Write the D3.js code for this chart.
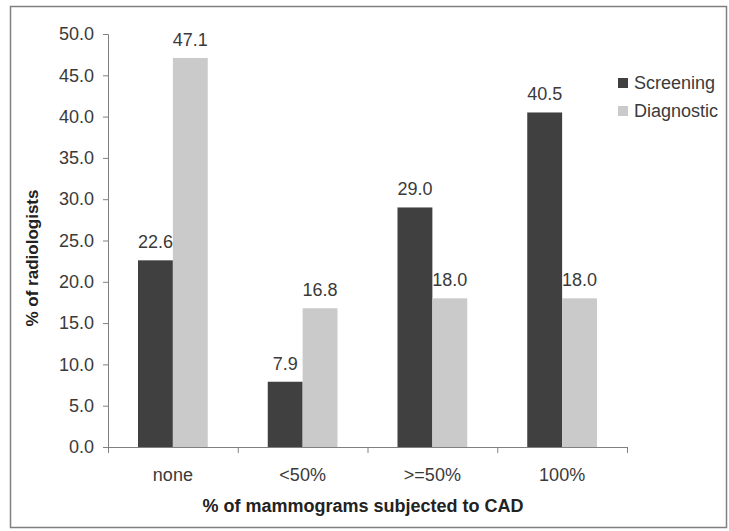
<!DOCTYPE html>
<html>
<head>
<meta charset="utf-8">
<script src="https://cdn.jsdelivr.net/npm/d3@7"></script>
<style>
body { margin: 0; background: #fff; }
text { font-family: "Liberation Sans", Arial, sans-serif; }
</style>
</head>
<body>
<script>
var categories = ["none", "<50%", ">=50%", "100%"];
var series = ["Screening", "Diagnostic"];
var screening = [22.6, 7.9, 29.0, 40.5];
var diagnostic = [47.1, 16.8, 18.0, 18.0];
var yTicks = [0, 5, 10, 15, 20, 25, 30, 35, 40, 45, 50];

var width = 729, height = 531;
var colors = {"Screening": "#404040", "Diagnostic": "#cacaca"};
var textColor = "#3a3a3a";

var svg = d3.select("body").append("svg")
	.attr("width", width)
	.attr("height", height);

// outer frame
svg.append("rect")
	.attr("x", 10.5).attr("y", 6.5)
	.attr("width", 716).attr("height", 521)
	.attr("fill", "none")
	.attr("stroke", "#808080")
	.attr("stroke-width", 1.5);

var x = d3.scaleBand().domain(categories).range([108, 627]);
var xs = d3.scaleBand().domain(series).range([0, x.bandwidth()]).paddingInner(0).paddingOuter(0.86);
var y = d3.scaleLinear().domain([0, 50]).range([447, 34]);

var rows = categories.map(function(c, i) {
	return {cat: c, vals: [{s: "Screening", v: screening[i]}, {s: "Diagnostic", v: diagnostic[i]}]};
});

var g = svg.selectAll("g.cat").data(rows).enter().append("g")
	.attr("class", "cat")
	.attr("transform", function(d) { return "translate(" + x(d.cat) + ",0)"; });

g.selectAll("rect").data(function(d) { return d.vals; }).enter().append("rect")
	.attr("x", function(d) { return xs(d.s); })
	.attr("y", function(d) { return y(d.v); })
	.attr("width", xs.bandwidth())
	.attr("height", function(d) { return y(0) - y(d.v); })
	.attr("fill", function(d) { return colors[d.s]; });

g.selectAll("text").data(function(d) { return d.vals; }).enter().append("text")
	.attr("x", function(d) { return xs(d.s) + xs.bandwidth() / 2; })
	.attr("y", function(d) { return y(d.v) - 12; })
	.attr("text-anchor", "middle")
	.attr("font-size", 18)
	.attr("fill", textColor)
	.text(function(d) { return d.v.toFixed(1); });

// y axis
var yAxis = svg.append("g")
	.attr("transform", "translate(108,0)")
	.call(d3.axisLeft(y).tickValues(yTicks).tickSize(5).tickFormat(d3.format(".1f")));
yAxis.select(".domain").attr("stroke", "#808080").attr("d", "M-5,34.5H0.5V447.5");
yAxis.selectAll(".tick line").attr("stroke", "#808080");
yAxis.selectAll(".tick text").attr("font-size", 18).attr("fill", textColor).attr("x", -14)
	.style("font-family", "Liberation Sans, Arial, sans-serif");

// x axis
var xAxis = svg.append("g")
	.attr("transform", "translate(0,447)")
	.call(d3.axisBottom(x).tickSize(0).tickPadding(21));
xAxis.select(".domain").attr("stroke", "#808080").attr("d", "M108,0.5H627.5");
xAxis.selectAll(".tick text").attr("font-size", 18).attr("fill", textColor)
	.style("font-family", "Liberation Sans, Arial, sans-serif");
xAxis.selectAll("line.sep").data(categories.concat(["end"])).enter().append("line")
	.attr("class", "sep")
	.attr("x1", function(d, i) { return 108 + i * x.step() + 0.5; })
	.attr("x2", function(d, i) { return 108 + i * x.step() + 0.5; })
	.attr("y1", 0).attr("y2", 6)
	.attr("stroke", "#808080");

// axis titles
svg.append("text")
	.attr("transform", "translate(38,258) rotate(-90)")
	.attr("text-anchor", "middle")
	.attr("font-size", 17)
	.attr("font-weight", "bold")
	.attr("fill", "#222")
	.text("% of radiologists");

svg.append("text")
	.attr("x", 363).attr("y", 512)
	.attr("text-anchor", "middle")
	.attr("font-size", 18)
	.attr("font-weight", "bold")
	.attr("fill", "#222")
	.text("% of mammograms subjected to CAD");

// legend
var legend = svg.selectAll("g.legend").data(series).enter().append("g")
	.attr("class", "legend")
	.attr("transform", function(d, i) { return "translate(618," + (83 + i * 28) + ")"; });
legend.append("rect")
	.attr("x", 0).attr("y", -5)
	.attr("width", 10).attr("height", 10)
	.attr("fill", function(d) { return colors[d]; });
legend.append("text")
	.attr("x", 16).attr("y", 6)
	.attr("font-size", 18)
	.attr("fill", textColor)
	.text(function(d) { return d; });
</script>
</body>
</html>
